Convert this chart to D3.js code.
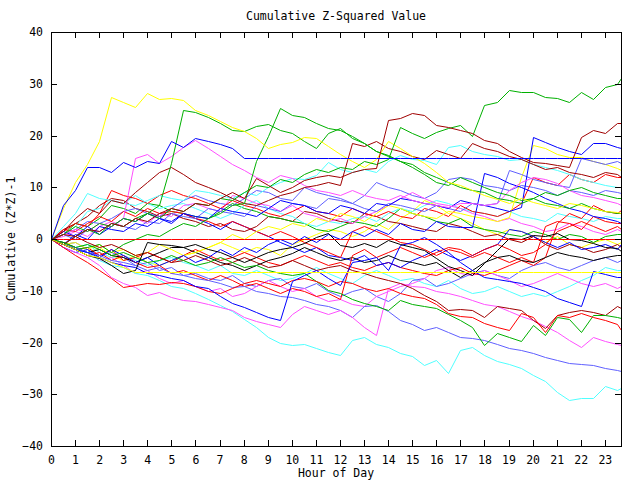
<!DOCTYPE html>
<html>
<head>
<meta charset="utf-8">
<script src="https://cdn.jsdelivr.net/npm/d3@7"></script>
<style>
    body { margin: 0; background: #ffffff; }
    #chart { width: 640px; height: 480px; }
    text { font-family: "DejaVu Sans Mono", "Liberation Mono", monospace; font-size: 11.5px; fill: #000; }
</style>
</head>
<body>
<div id="chart"></div>
<script>
//Eje X: horas (cada media hora) y ticks
const hours = [0, 0.5, 1, 1.5, 2, 2.5, 3, 3.5, 4, 4.5, 5, 5.5,
    6, 6.5, 7, 7.5, 8, 8.5, 9, 9.5, 10, 10.5, 11, 11.5,
    12, 12.5, 13, 13.5, 14, 14.5, 15, 15.5, 16, 16.5, 17, 17.5,
    18, 18.5, 19, 19.5, 20, 20.5, 21, 21.5, 22, 22.5, 23, 23.5, 23.67];
const xTicks = [0, 1, 2, 3, 4, 5, 6, 7, 8, 9, 10, 11, 12, 13, 14, 15, 16, 17, 18, 19, 20, 21, 22, 23];
const yTicks = [-40, -30, -20, -10, 0, 10, 20, 30, 40];

//Series (valor acumulado por cada media hora)
const yellowTop = [0, 6, 11, 14.5, 19, 27.5, 26.5, 25.5, 28.2, 27, 27.2, 26.8,
    25, 24, 22.8, 21.6, 20.8, 19.5, 17.6, 18.3, 18.8, 19.8, 19.5, 18,
    16.5, 15, 14, 15.5, 19, 17.5, 16, 14.7, 13, 11, 10.5, 9.5,
    8.5, 7.8, 7, 8, 7.2, 6.5, 6, 7, 6.5, 6, 5.5, 5.2, 5];
const greenTop = [0, 1, 2.5, 1.5, 3, 2.5, 4, 3.5, 5, 4, 6, 5.5,
    7, 6.5, 8, 7.5, 9, 10.5, 10, 11.5, 11, 12.5, 13.5, 13,
    14, 13.5, 15, 14.5, 15.5, 21.7, 20.5, 19.5, 20.7, 21.5, 22, 20,
    25.9, 26.5, 28.8, 28.5, 28.4, 27.5, 27.2, 26.5, 28.4, 27, 29.4, 30, 31.1];
const green1 = [0, -1, 0.5, 2, 1, 3, 2.5, 4, 5, 6.5, 14.7, 25,
    24.5, 23.6, 22.5, 21, 20.8, 21.8, 22.2, 21, 20.5, 19, 17.6, 20.5,
    21.5, 19.5, 18.5, 17, 16.2, 15, 14.5, 13, 12, 11, 10, 9.5,
    9, 8, 7.5, 7, 8, 7, 6.5, 6, 7, 6, 5.5, 5, 5];
const green2 = [0, -1, -2, -1.5, -1, -2.5, -1, 0, 1, 0.5, 2, 3,
    2.5, 4, 5, 6.5, 7, 15, 20, 25.3, 24, 23.5, 22.4, 21.5,
    21, 20, 18.5, 17, 16, 15, 14, 12.5, 11, 10.5, 12, 11,
    10, 9, 8.5, 7.5, 8, 9, 8.5, 9.5, 10, 9, 8.5, 8, 8];
const darkredTop = [0, 1, 0.5, 2, 1.5, 3, 2.5, 4, 3.5, 5, 6, 5.5,
    7, 6.5, 8, 9, 8, 11.8, 10.5, 9, 10, 11.4, 12, 12.4,
    12, 13, 13.5, 13.7, 23, 23.4, 24.3, 24, 22, 21.6, 21, 20.5,
    19.1, 18.5, 17, 15.8, 14.9, 14.7, 14.3, 14, 19.7, 21, 20.5, 22.4, 22.4];
const darkred2 = [0, 1.5, 4, 6, 5, 7.5, 7, 9, 11, 13, 13.9, 12.5,
    11, 10, 9, 8, 7, 6.5, 7.5, 8.5, 9, 10, 10.5, 11,
    10.5, 18.5, 18, 19, 17.5, 17, 16, 15.5, 17.2, 16.5, 15.7, 18.5,
    17.6, 17, 16, 15.5, 14.5, 13.5, 14, 13, 12.5, 12, 13, 12.5, 12];
const blueFlat = [0, 6.5, 9.5, 14, 14, 13, 14.9, 13.9, 15, 14.7, 19, 17.8,
    19.5, 19, 18.3, 17.5, 15.6, 15.6, 15.6, 15.6, 15.6, 15.6, 15.6, 15.6,
    15.6, 15.6, 15.6, 15.6, 15.6, 15.6, 15.6, 15.6, 15.6, 15.6, 15.6, 15.6,
    15.6, 15.6, 15.6, 15.6, 15.6, 15.6, 15.6, 15.6, 15.6, 15.6, 15.6, 15.6, 15.6];
const magentaHigh = [0, 1, 2, 1.5, 3, 2.5, 4, 15.7, 16.5, 14.7, 16, 17.8,
    19.1, 17.5, 16, 14.5, 13.3, 12, 11, 12.4, 11.8, 10.5, 9.5, 9,
    8.5, 9.5, 8.5, 8, 7.5, 8.5, 7.5, 7, 6.5, 6.2, 7, 6.9,
    6.5, 7, 9.5, 11, 12, 11.5, 10.8, 9.5, 8.5, 8.1, 7.5, 7, 6.5];
const blueHigh = [0, -1, 1, 0, 2.5, 2, 1.5, 3, 2.5, 4, 3, 5,
    4.5, 4, 6, 5.5, 5, 4.5, 6, 7.5, 7, 6.5, 5.5, 5,
    6.5, 6, 5, 7, 6.5, 8, 7.5, 7, 6.5, 6, 7.5, 7,
    6.5, 6, 5.5, 6.2, 19.7, 18.8, 17.8, 17, 16.5, 18.5, 18.5, 17.8, 17.6];
const blue3 = [0, -1.5, -2.5, -2, -3.5, -2, -3, -4.5, -3.5, -5, -4, -3,
    -4.5, -3.5, -2, -3, -1.5, -2.5, -1, 0, -1, 0.5, -0.5, 1,
    0, 1.5, 0.5, 2, 1, 3, 2, 1.5, 3.5, 2.5, 2.3, 2.3,
    12.8, 12, 10.8, 10, 9, 8, 7, 6, 5.5, 4.5, 4, 3.5, 3];
const lightblueHigh = [0, 1, 0, 2, 1.5, 3, 2.5, 2, 3.5, 3, 5, 4.5,
    4, 6, 5.5, 5, 4.5, 6.5, 6, 5.5, 7, 6.5, 6, 8,
    7.5, 7, 6, 5.5, 7, 6.5, 6, 5.5, 6.5, 6, 5.5, 7,
    6.5, 7, 13.3, 12.5, 11.5, 11, 10.5, 10, 15.6, 15, 14.5, 15, 14.6];
const cyanHigh = [0, 2.5, 5, 8.9, 8, 7.5, 7, 6.5, 7.5, 8.5, 8, 7.5,
    9.5, 9, 8.5, 8, 9, 8.5, 10, 11, 11.8, 11.5, 12.4, 14.9,
    13.5, 12.9, 13.5, 13, 15, 16.2, 15.5, 15.3, 14.5, 17.8, 18.2, 17,
    16.5, 16, 15.3, 15.5, 14.5, 14, 13.3, 12.5, 11.5, 11, 10.5, 10, 10];
const yellow3 = [0, -1, -0.5, -2, -1, -2.5, -2, -3, -2.5, -1, -2, -3,
    -2.5, -1.5, -0.5, 1, 0, 1.5, 2.5, 2, 3, 2.5, 4, 3.5,
    5, 4.5, 3.5, 5, 6.5, 6, 5, 4.5, 4, 5.5, 5, 4.5,
    4, 3.5, 4.3, 12, 18.2, 17.5, 16.5, 15.8, 15.8, 15, 14.5, 13.8, 13.3];
const redFlat = [0, 0, 0, 0, 0, 0, 0, 0, 0, 0, 0, 0,
    0, 0, 0, 0, 0, 0, 0, 0, 0, 0, 0, 0,
    0, 0, 0, 0, 0, 0, 0, 0, 0, 0, 0, 0,
    0, 0, 0, 0, 0, 0, 0, 0, 0, 0, 0, 0, 0];
const yellowFlat = [0, -1, -2, -3, -3.5, -4.5, -5.5, -6.4, -6.4, -6.4, -6.4, -6.4,
    -6.4, -6.4, -6.4, -6.4, -6.4, -6.4, -6.4, -6.4, -6.4, -6.4, -6.4, -6.4,
    -6.4, -6.4, -6.4, -6.4, -6.4, -6.4, -6.4, -6.4, -6.4, -6.4, -6.4, -6.4,
    -6.4, -6.4, -6.4, -6.4, -6.4, -6.4, -6.4, -6.4, -6.4, -6.4, -6.4, -6.4, -6.4];
const cyanLow = [0, -1, -2, -2.5, -4, -5, -5.5, -6.5, -7, -8, -9, -9.5,
    -10.5, -11.5, -12.8, -13.9, -15.5, -17, -18.9, -20, -20.5, -20.3, -21, -21.8,
    -22.4, -19.5, -18.9, -20.3, -20.8, -22, -22.7, -24.3, -23.4, -25.9, -21.5, -20.8,
    -22.5, -23.5, -24.2, -25, -26.2, -27.5, -29.5, -31.1, -30.8, -30.8, -28.5, -29.2, -28.8];
const lightblueLow = [0, -1, -1.5, -2.5, -3, -4, -4.5, -5, -6, -5.5, -6.5, -7,
    -7.5, -8, -8.5, -9.3, -9, -10, -10.5, -11, -11.2, -11.8, -12.5, -13,
    -13.7, -15, -13, -12.8, -14, -15.7, -16.5, -17.6, -17, -18, -18.9, -19.2,
    -19.5, -20.2, -21, -21.4, -22, -22.8, -23.4, -24, -24.2, -24.3, -25, -25.3, -25.6];
const magentaLow = [0, -1.5, -2.5, -3.5, -5, -7.3, -8.5, -9.2, -10.8, -10.3, -11.2, -11.8,
    -12, -12.5, -13.2, -13.7, -15, -15.8, -16.5, -17, -14.5, -13, -13.7, -14.5,
    -13.7, -15, -17, -18.5, -9.5, -8.5, -9, -9.2, -10, -10.5, -11.1, -11.8,
    -12.5, -13, -14, -14.8, -15.7, -16.8, -18, -19.5, -20.8, -18.9, -19.8, -20.3, -20.5];
const darkredLow = [0, -1, 0.5, -0.5, -1.5, -1, -2, -3, -2.5, -3.5, -4.5, -4,
    -3, -4, -5, -4.5, -3.5, -4.5, -5.5, -5, -4, -5, -6, -5.5,
    -5, -6, -6.5, -7.3, -8, -8.5, -9.5, -10.8, -12, -13.7, -13.5, -13.7,
    -15, -13, -13.3, -13.7, -15.7, -17.2, -14.7, -14.2, -13.7, -14.2, -14.7, -13, -13.4];
const redLow = [0, -1.5, -3, -4.5, -6, -7.5, -9.3, -8.8, -8.5, -8.7, -8.3, -8.5,
    -9, -10, -10.5, -9.5, -8.5, -7.9, -8.5, -9, -8, -7.5, -8.2, -9,
    -8.2, -8.5, -9.5, -10, -9.5, -10.5, -11, -11.4, -12.5, -14.3, -14.8, -15,
    -16.2, -17, -17.6, -14.3, -15, -17.9, -14.7, -15, -14.3, -15, -15.7, -16.5, -17.6];
const greenLow = [0, -0.5, -1.5, -1, -2, -3, -2.5, -3.5, -4.5, -4, -3, -4,
    -5, -4.5, -3.5, -4.5, -5.5, -5, -6, -6.5, -7, -6.5, -8.2, -9.8,
    -10.5, -11.5, -12.4, -13, -13.7, -11.8, -12.5, -13, -13.4, -14.5, -15.7, -17,
    -20.5, -18.2, -18.9, -19.8, -16.6, -18.5, -15, -15.5, -17.9, -14.7, -14.7, -15, -15.3];
const blueLow = [0, -1, -2, -2.5, -3.5, -4.5, -5, -5.5, -6.5, -7, -7.5, -8,
    -9, -9.5, -11, -12.4, -13.2, -14.2, -15, -15.7, -8.2, -7, -6, -7.5,
    -8.9, -4.5, -4, -3.4, -6, -1.2, -0.5, 0.4, -1, -2.5, -4.4, -6,
    -7.3, -7.8, -8.2, -8.5, -9.2, -10, -11.4, -12.2, -13, -6.2, -6.8, -7.3, -7.3];
const black1 = [0, -1, -2, -3, -3.7, -5, -6.6, -6, -0.6, -1, -1.2, -1.5,
    -1, -2, -2.5, -3.5, -4.4, -3.5, -2.5, -2, -1.5, -0.8, 0.4, 1.1,
    -1.2, -1.5, -0.8, -1.5, -0.2, -1, -1.5, -2.1, -3.7, -5.3, -6, -7,
    -4.7, -2.1, 0.2, 0, 0.8, 0.5, 1.1, 0, -0.2, -0.8, -1.5, -1.8, -2.4];
const black2 = [0, -0.5, -1.5, -2.5, -2, -3, -3.5, -4.5, -3.5, -2.5, -1.5, -1.5,
    -2.5, -3.5, -4.4, -5, -6, -5, -4, -3.4, -2.7, -1.5, -2.5, -3.5,
    -4, -3.5, -4.5, -4, -3, -4, -4.5, -5, -4.5, -6, -7.3, -6,
    -4.5, -3.5, -3, -4, -4.5, -3.5, -2.5, -3, -3.5, -4, -3.5, -3, -3];
const red1 = [0, 1.5, 3, 2.5, 5, 9.5, 8.5, 8, 7, 8.5, 9.5, 8.5,
    8, 7, 6, 7.5, 6.5, 6, 5, 4.5, 5.5, 6.5, 5.5, 5,
    4.5, 6, 5, 4.5, 5.5, 4.5, 4, 6, 5.5, 4.5, 6.5, 5.5,
    5, 4.5, 5.5, 7, 12, 11, 10.5, 12.5, 11.5, 11, 12.5, 12, 12];
const red2 = [0, -1, -2, -1.5, -3, -2, -4, -3.5, -2.5, -3.5, -4.5, -3,
    -2, -3, -4, -3.5, -2.5, -3.5, -4.5, -5, -4, -3, -4, -5,
    -4.5, -5.5, -6, -5, -4.5, -5.5, -6, -6.5, -7, -6, -5.5, -6.5,
    -7, -6, -5, -4, -5, -3.5, 3, 5, 4, 6.5, 5.5, 5, 5.6];
const red3 = [0, 2, 1.5, 3, 4.5, 3.5, 5.5, 4.5, 6, 5, 5.5, 5,
    4, 3.5, 2.5, 3.5, 2.5, 1.5, 0.5, 1.5, 0.5, -0.5, -1.5, -2.5,
    -3.5, 1.5, 2.5, 1.5, 0.5, -0.5, -1, -2, -3, -2, -2.5, -3.5,
    -2.5, -3.5, -4.5, -3.5, -4.5, 2.5, 3.5, 3, 2, 4.5, 3.5, 3, 3];
const red4 = [0, -1, -2, -3, -2.5, -4, -3, -4.5, -5.5, -5, -6.5, -6,
    -7, -8, -7, -8, -9, -8.5, -9.5, -10.5, -9.5, -10, -11, -10.5,
    -11.5, -3, -2, -3.5, -2.5, -1.5, -2.5, -3.5, -2.5, -1.5, -2, -3,
    -2, -1, -2, -3, -2.5, -1, 1.5, 2.5, 3.5, 2.5, 1.5, 2.5, 2];
const cyan2 = [0, 1, 2.5, 5.5, 6, 7.5, 7, 8.5, 7, 6, 6.5, 7,
    6, 5, 4, 5, 6.5, 7.5, 6, 5, 4.5, 3, 2.5, 3.5,
    3, 4, 4.5, 3.5, 5, 6, 5.5, 6.5, 7.5, 7, 6, 5.5,
    5, 4.5, 5.5, 4.5, 4, 3.5, 5, 4.5, 4, 3.5, 4.5, 4, 4];
const cyan3 = [0, -0.5, -1.5, -1, -2.5, -3.5, -3, -4, -5, -4, -3.5, -4.5,
    -5, -6, -5, -6.5, -7, -6, -7, -8, -7.5, -6.5, -5.5, -6.5,
    -7.5, -8.5, -7, -6, -7, -8, -7.5, -8.5, -9, -8, -9.5, -10.5,
    -10, -9, -10, -11, -10.5, -11, -10, -9, -8, -7, -5.5, -6, -6];
const lightblue2 = [0, 1, 2, 3.5, 3, 4, 5.5, 6, 5, 4.5, 6, 7.5,
    8.5, 7.5, 7, 6.5, 8, 9.5, 9, 8, 7.5, 10, 9, 8.5,
    8, 7, 8.5, 11, 10, 9.5, 8.5, 8, 9, 11.5, 12, 11.5,
    10.5, 10, 9.5, 10.5, 10, 9.5, 8.5, 9.5, 9, 8.5, 9.5, 9, 8.9];
const lightblue3 = [0, -1, -0.5, -2, -3, -2.5, -3.5, -5, -4.5, -6, -5.5, -7,
    -6.5, -7.5, -8, -7, -8.5, -9, -8, -7.5, -9, -9.5, -8.5, -10,
    -11, -10, -9.5, -11, -12, -10.5, -8, -7.5, -9, -8.5, -7.5, -6.5,
    -6, -7, -7.5, -6, -5, -4.5, -5.5, -6, -5, -4, -3.5, -4.5, -4];
const magenta2 = [0, 0.5, 1.5, 0.5, 2.5, 3.5, 2.5, 4, 3, 5, 4.5, 6.5,
    7, 6, 5.5, 8.5, 8, 7, 6.5, 5.5, 6.5, 5, 4.5, 3.5,
    4, 3, 4.5, 5.5, 6.5, 8, 9, 8, 7, 6.5, 6, 5,
    4.5, 3.5, 4, 3, 2.5, 1.5, 2, 3, 2.5, 1.5, 1, 2, 1.5];
const magenta3 = [0, -1, -2, -2.5, -4, -3.5, -5, -6.5, -6, -7.5, -8.5, -8,
    -9, -10, -9.5, -11, -10.5, -9, -8, -9, -10, -9.5, -11, -12,
    -11.5, -12.5, -13, -11, -10, -9, -8.5, -7.5, -6, -5.5, -6.5, -7,
    -6, -7, -8, -9, -8.5, -7.5, -6.5, -7.5, -8.5, -9, -8.5, -9.5, -9];
const blue4 = [0, 1.5, 0.5, 2.5, 1, 2.5, 4, 3.5, 5, 4, 3.5, 5,
    4, 3, 2, 3.5, 2.5, 1.5, 0.5, -0.5, -1.5, -2.5, -1.5, -3,
    -3.5, -4, -3, -5, -4.5, -5.5, -4, -3, -2, -3, -4, -3,
    -2, -1, 2, 1.5, 0.5, -0.5, -1.5, -0.5, -2, -1.5, -1, -2, -1];
const greenMid = [0, 1, 3, 2.5, 4, 6.5, 6, 5, 7, 6.5, 5.5, 5,
    4.5, 4, 5.5, 7, 6, 5.5, 4.5, 4, 3.5, 3, 2, 1.5,
    2.5, 3.5, 3, 2.5, 4, 6, 5, 4.5, 3.5, 3, 4, 2.5,
    2, 1.5, 1, 0.5, 1.5, 1, 0, 1, 0.5, -0.5, 0.5, 1, 1];
const darkred3 = [0, 2, 3, 4.5, 6.5, 8, 7.5, 6, 5.5, 4.5, 5, 4,
    3.5, 2.5, 3, 2, 1.5, 2.5, 4.5, 4, 3.5, 5.5, 5, 4,
    3.5, 3, 5, 4.5, 3.5, 3, 2.5, 2, 1.5, 3, 2.5, 1.5,
    0.5, 1, 0, -0.5, 0.5, -1, -2, -1, -1.5, -2.5, -2, -1, -1.5];
const yellow4 = [0, -0.5, -1.5, -2.5, -1.5, -3, -4, -3, -4.5, -5, -4, -3,
    -2.5, -1.5, -0.5, -1.5, -2.5, -1.5, -2, -3, -1, 0, 1, 2,
    1.5, 0.5, 1.5, 3, 2, 4, 5.5, 7.5, 6.5, 5, 4, 3,
    2, 1, 2, 1.5, 0.5, -0.5, 0.5, -1, -1.5, -0.5, 0, -1, -0.5];

//Colores fijos (paleta gnuplot)
const COLOR_RED = '#ff0000',
COLOR_GREEN = '#00b000',
COLOR_BLUE = '#0000ff',
COLOR_MAGENTA = '#ff50ff',
COLOR_CYAN = '#50ffff',
COLOR_DARKRED = '#a00000',
COLOR_LIGHTBLUE = '#6060ff',
COLOR_YELLOW = '#ffff00',
COLOR_BLACK = '#000000';

//Orden de dibujo: primero las de la banda central
let series = [
    { values: yellow4, color: COLOR_YELLOW },
    { values: darkred3, color: COLOR_DARKRED },
    { values: greenMid, color: COLOR_GREEN },
    { values: cyan2, color: COLOR_CYAN },
    { values: lightblue2, color: COLOR_LIGHTBLUE },
    { values: magenta2, color: COLOR_MAGENTA },
    { values: cyan3, color: COLOR_CYAN },
    { values: lightblue3, color: COLOR_LIGHTBLUE },
    { values: magenta3, color: COLOR_MAGENTA },
    { values: red1, color: COLOR_RED },
    { values: red2, color: COLOR_RED },
    { values: blue4, color: COLOR_BLUE },
    { values: red3, color: COLOR_RED },
    { values: black2, color: COLOR_BLACK },
    { values: red4, color: COLOR_RED },
    { values: yellow3, color: COLOR_YELLOW },
    { values: cyanHigh, color: COLOR_CYAN },
    { values: lightblueHigh, color: COLOR_LIGHTBLUE },
    { values: blue3, color: COLOR_BLUE },
    { values: blueHigh, color: COLOR_BLUE },
    { values: magentaHigh, color: COLOR_MAGENTA },
    { values: darkred2, color: COLOR_DARKRED },
    { values: green2, color: COLOR_GREEN },
    { values: green1, color: COLOR_GREEN },
    { values: cyanLow, color: COLOR_CYAN },
    { values: lightblueLow, color: COLOR_LIGHTBLUE },
    { values: magentaLow, color: COLOR_MAGENTA },
    { values: darkredLow, color: COLOR_DARKRED },
    { values: greenLow, color: COLOR_GREEN },
    { values: redLow, color: COLOR_RED },
    { values: blueLow, color: COLOR_BLUE },
    { values: black1, color: COLOR_BLACK },
    { values: yellowTop, color: COLOR_YELLOW },
    { values: greenTop, color: COLOR_GREEN },
    { values: darkredTop, color: COLOR_DARKRED },
    { values: yellowFlat, color: COLOR_YELLOW },
    { values: redFlat, color: COLOR_RED },
    { values: blueFlat, color: COLOR_BLUE }
];

let margin = {top: 32, right: 19, bottom: 34, left: 51},
    width = 640 - margin.left - margin.right,
    height = 480 - margin.top - margin.bottom;

let root = d3.select('#chart')
    .append('svg')
      .attr('width', 640)
      .attr('height', 480);

let svg = root.append('g')
    .attr('transform', 'translate(' + margin.left + ',' + margin.top + ')');

let x = d3.scaleLinear()
    .domain([0, 23.67])
    .range([0, width]);

let y = d3.scaleLinear()
    .domain([-40, 40])
    .range([height, 0]);

//Recorte del área de dibujo
svg.append('clipPath')
    .attr('id', 'plot-clip')
    .append('rect')
    .attr('width', width + 1)
    .attr('height', height + 1);

//Líneas (ajustadas al centro del píxel)
let line = d3.line()
    .x(function(d, i) { return Math.round(x(hours[i])) + 0.5; })
    .y(function(d) { return Math.round(y(d)) + 0.5; });

svg.append('g')
    .attr('clip-path', 'url(#plot-clip)')
    .selectAll('path')
    .data(series)
    .enter()
    .append('path')
    .attr('d', function(d) { return line(d.values); })
    .attr('fill', 'none')
    .attr('stroke', function(d) { return d.color; })
    .attr('stroke-width', 1);

//Ejes con marcas hacia dentro
function styleAxis(g) {
    g.attr('font-family', null).attr('font-size', null);
    g.select('.domain').remove();
    g.selectAll('.tick line').attr('stroke', '#000').attr('shape-rendering', 'crispEdges');
}

svg.append('g')
    .attr('transform', 'translate(0,' + height + ')')
    .call(d3.axisBottom(x).tickValues(xTicks).tickSizeInner(-6).tickSizeOuter(0).tickPadding(10))
    .call(styleAxis);

svg.append('g')
    .call(d3.axisTop(x).tickValues(xTicks).tickSizeInner(-6).tickSizeOuter(0).tickFormat(''))
    .call(styleAxis);

svg.append('g')
    .call(d3.axisLeft(y).tickValues(yTicks).tickSizeInner(-6).tickSizeOuter(0).tickPadding(8))
    .call(styleAxis);

svg.append('g')
    .attr('transform', 'translate(' + width + ',0)')
    .call(d3.axisRight(y).tickValues(yTicks).tickSizeInner(-6).tickSizeOuter(0).tickFormat(''))
    .call(styleAxis);

//Marco
svg.append('rect')
    .attr('x', 0.5)
    .attr('y', 0.5)
    .attr('width', width)
    .attr('height', height)
    .attr('fill', 'none')
    .attr('stroke', '#000')
    .attr('shape-rendering', 'crispEdges');

//Textos
root.append('text')
    .attr('x', margin.left + width / 2)
    .attr('y', 20)
    .attr('text-anchor', 'middle')
    .text('Cumulative Z-Squared Value');

root.append('text')
    .attr('x', margin.left + width / 2)
    .attr('y', 477)
    .attr('text-anchor', 'middle')
    .text('Hour of Day');

root.append('text')
    .attr('transform', 'translate(15,' + (margin.top + height / 2) + ') rotate(-90)')
    .attr('text-anchor', 'middle')
    .text('Cumulative (Z*Z)-1');
</script>
</body>
</html>
